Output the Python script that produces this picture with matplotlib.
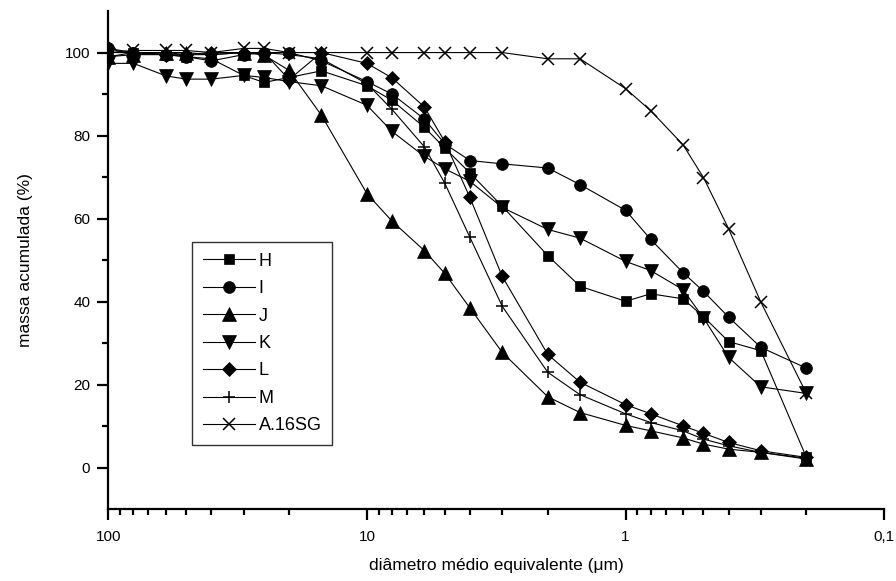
import matplotlib
matplotlib.use("Agg")
import matplotlib.pyplot as plt
from matplotlib.ticker import FixedLocator, FixedFormatter, LogLocator, NullFormatter

plt.rcParams['font.family'] = ['Liberation Sans', 'DejaVu Sans']

diam = [100, 80, 60, 50, 40, 30, 25, 20, 15, 10, 8, 6, 5, 4, 3, 2, 1.5, 1,
        0.8, 0.6, 0.5, 0.4, 0.3, 0.2]

H = [100, 100, 99.5, 99, 98.5, 94.5, 92.8, 94, 95.6, 92, 88.5, 82, 77, 71,
     63, 51.1, 43.7, 40.1, 41.9, 40.7, 36.4, 30.4, 28.2, 2.5]
I = [101, 100, 99.5, 99, 98, 99.5, 100, 100, 98, 93, 90, 84, 78, 74,
     73.2, 72.2, 68.2, 62, 55, 47, 42.5, 36.3, 29, 24]
J = [99, 99.5, 100, 100, 99.5, 100, 99.4, 95.7, 84.9, 66, 59.4, 52.3, 46.8, 38.5,
     27.8, 17.1, 13.3, 10.2, 8.9, 7.2, 5.7, 4.5, 3.7, 2.1]
K = [97.4, 97.4, 94.4, 93.6, 93.6, 94.5, 94, 93, 92, 87.3, 81, 75, 72, 69,
     62.7, 57.4, 55.3, 49.7, 47.5, 42.9, 36.1, 26.6, 19.5, 17.9]
L = [101, 99.5, 99.5, 99.5, 100, 100, 100, 93.5, 100, 97.4, 93.9, 86.9, 78.5, 65.1,
     46.1, 27.3, 20.6, 15.2, 13.0, 10.1, 8.3, 6.1, 4.1, 2.5]
M = [99, 100, 100, 99.5, 99.5, 100, 100, 99.5, 98.5, 92.5, 86.3, 77.3, 68.5, 55.5,
     38.9, 23.0, 17.6, 13.0, 10.9, 8.9, 6.9, 5.3, 3.7, 2.3]
A16SG = [100, 100.5, 100.5, 100.5, 100, 101, 101, 100, 100, 100, 100, 100, 100, 100,
         100, 98.5, 98.5, 91.3, 86, 77.8, 69.9, 57.6, 39.9, 17.9]

series = [("H", H, "s"), ("I", I, "o"), ("J", J, "^"), ("K", K, "v"),
          ("L", L, "D"), ("M", M, "+"), ("A.16SG", A16SG, "x")]

xticks = [100, 10, 1, 0.1]
xticklabels = ["100", "10", "1", "0,1"]

msizes = {"s": 7.5, "o": 8.5, "^": 10, "v": 10, "D": 7.2, "+": 8, "x": 8.5}

fig = plt.figure(figsize=(8.96, 5.81), dpi=100)
ax = fig.add_axes([0.1209, 0.1234, 0.866, 0.8576])

for name, vals, mk in series:
    ax.plot(diam, vals, color="black", lw=0.8, marker=mk, markersize=msizes[mk],
            markerfacecolor="black", markeredgecolor="black",
            markeredgewidth=1.1 if mk in ("+", "x") else 0.5, label=name)

ax.set_xscale("log")
ax.set_xlim(100, 0.1)
ax.set_ylim(-10, 110)

ax.xaxis.set_major_locator(FixedLocator(xticks))
ax.xaxis.set_major_formatter(FixedFormatter(xticklabels))
ax.xaxis.set_minor_locator(LogLocator(base=10, subs=range(2, 10), numticks=20))
ax.xaxis.set_minor_formatter(NullFormatter())

ax.yaxis.set_major_locator(FixedLocator([0, 20, 40, 60, 80, 100]))
ax.yaxis.set_minor_locator(FixedLocator([10, 30, 50, 70, 90]))

for s in ("top", "right"):
    ax.spines[s].set_visible(False)
for s in ("left", "bottom"):
    ax.spines[s].set_linewidth(1.6)

ax.tick_params(axis="both", which="major", direction="out", length=8, width=1.6,
               labelsize=11)
ax.tick_params(axis="both", which="minor", direction="out", length=4.5, width=1.6)
ax.tick_params(axis="x", which="major", pad=7)
ax.tick_params(axis="y", which="major", pad=5)

ax.set_xlabel("diâmetro médio equivalente (μm)", fontsize=12.5, labelpad=10)
ax.set_ylabel("massa acumulada (%)", fontsize=12.5, labelpad=23)

leg = ax.legend(loc="upper left", bbox_to_anchor=(0.1075, 0.537), borderaxespad=0,
                numpoints=1, handlelength=2.9, handletextpad=0.2, fontsize=13,
                frameon=True, fancybox=False, borderpad=0.6, labelspacing=0.58,
                markerscale=1.0)
leg.get_frame().set_edgecolor("black")
leg.get_frame().set_linewidth(1.0)

fig.savefig("out.png", dpi=100)
